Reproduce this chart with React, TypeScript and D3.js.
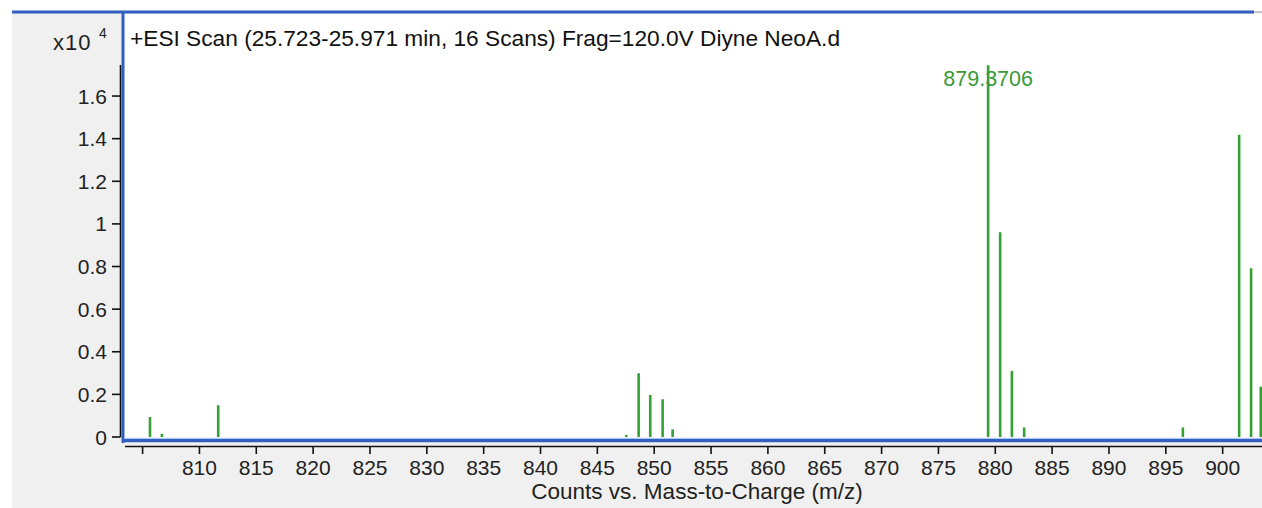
import React from 'react';
import * as d3 from 'd3';

// peak list (m/z, counts x10^4)
const peakMz = [805.65, 806.7, 811.65, 847.54, 848.63, 849.65, 850.74, 851.62, 879.3706, 880.43, 881.46, 882.54, 896.5, 901.45, 902.5, 903.35];
const peakCounts = [0.094, 0.015, 0.149, 0.01, 0.299, 0.197, 0.177, 0.036, 1.745, 0.961, 0.31, 0.045, 0.045, 1.418, 0.792, 0.236];
const labelledPeak = 879.3706;
const xTicks = d3.range(805, 901, 5);
const yTicks = [0, 0.2, 0.4, 0.6, 0.8, 1, 1.2, 1.4, 1.6];
const title = '+ESI Scan (25.723-25.971 min, 16 Scans) Frag=120.0V Diyne NeoA.d';
const xTitle = 'Counts vs. Mass-to-Charge (m/z)';

const W = 1262;
const H = 508;
const left = 123.5;
const right = 1262;
const top = 14;
const base = 437;

export default function App() {
  const x = d3.scaleLinear().domain([803.32, 903.46]).range([left, right]);
  const y = d3.scaleLinear().domain([0, 1.985]).range([base, top]);
  const font = "'Liberation Sans', Arial, sans-serif";
  const green = '#35a035';

  return (
    <>
      <style>{`body{margin:0}`}</style>
      <svg width={W} height={H} style={{ display: 'block' }} fontFamily={font}>
        <rect x={0} y={0} width={W} height={H} fill="#fff" />
        <rect x={12} y={13} width={W - 12} height={H - 13} fill="#f0f0f0" />
        <rect x={left} y={top} width={right - left} height={439 - top} fill="#fff" />

        {/* peaks */}
        <g>
          {peakMz.map((mz, i) => (
            <line key={i} x1={x(mz)} x2={x(mz)} y1={y(0)} y2={y(peakCounts[i])}
              stroke={green} strokeWidth={2.6} />
          ))}
        </g>
        <text x={x(labelledPeak)} y={86} textAnchor="middle" fontSize={21.5} fill="#3a9a3a">
          {labelledPeak.toFixed(4)}
        </text>

        {/* frame */}
        <line x1={12} x2={1254} y1={12} y2={12} stroke="#2f5fbf" strokeWidth={3} />
        <line x1={1254} x2={1262} y1={12} y2={12} stroke="#c8c8c8" strokeWidth={2} />
        <line x1={123} x2={123} y1={12} y2={443} stroke="#2f5fbf" strokeWidth={3} />
        <line x1={122} x2={right} y1={440.5} y2={440.5} stroke="#2f5fbf" strokeWidth={3.5} />
        <line x1={124} x2={right} y1={438.3} y2={438.3} stroke="#a8c4f0" strokeWidth={1} />

        {/* y axis */}
        <line x1={120.5} x2={120.5} y1={65} y2={base} stroke="#111" strokeWidth={1.6} />
        {yTicks.map(t => (
          <g key={t}>
            <line x1={112} x2={120.5} y1={y(t)} y2={y(t)} stroke="#111" strokeWidth={1.6} />
            <text x={107} y={y(t)} dy="0.36em" textAnchor="end" fontSize={21} fill="#222">{t}</text>
          </g>
        ))}
        <text x={53} y={50} fontSize={22} fill="#222" letterSpacing={1}>x10</text>
        <text x={99} y={38} fontSize={14} fill="#222">4</text>

        {/* x axis */}
        <line x1={125} x2={right} y1={446.5} y2={446.5} stroke="#111" strokeWidth={1.6} />
        {xTicks.map(t => (
          <g key={t}>
            <line x1={x(t)} x2={x(t)} y1={446.5} y2={454} stroke="#111" strokeWidth={1.6} />
            {t >= 810 && (
              <text x={x(t)} y={475} textAnchor="middle" fontSize={21} fill="#222">{t}</text>
            )}
          </g>
        ))}
        <text x={697} y={498.5} textAnchor="middle" fontSize={22.5} fill="#222">{xTitle}</text>

        <text x={130} y={46} fontSize={22.7} fill="#111">{title}</text>
      </svg>
    </>
  );
}
